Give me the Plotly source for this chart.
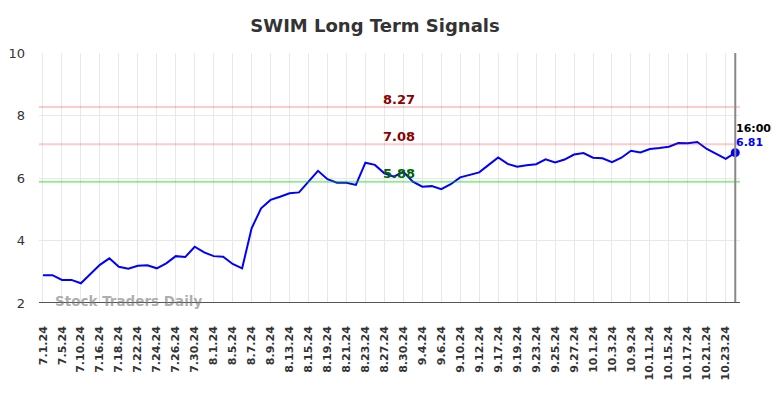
import plotly.graph_objects as go

dates = ["7.1.24","7.3.24","7.5.24","7.9.24","7.10.24","7.12.24","7.16.24","7.17.24","7.18.24","7.19.24",
         "7.22.24","7.23.24","7.24.24","7.25.24","7.26.24","7.29.24","7.30.24","7.31.24","8.1.24","8.2.24",
         "8.5.24","8.6.24","8.7.24","8.8.24","8.9.24","8.12.24","8.13.24","8.14.24","8.15.24","8.16.24",
         "8.19.24","8.20.24","8.21.24","8.22.24","8.23.24","8.26.24","8.27.24","8.28.24","8.30.24","9.3.24",
         "9.4.24","9.5.24","9.6.24","9.9.24","9.10.24","9.11.24","9.12.24","9.16.24","9.17.24","9.18.24",
         "9.19.24","9.20.24","9.23.24","9.24.24","9.25.24","9.26.24","9.27.24","9.30.24","10.1.24","10.2.24",
         "10.3.24","10.8.24","10.9.24","10.10.24","10.11.24","10.14.24","10.15.24","10.16.24","10.17.24","10.18.24",
         "10.21.24","10.22.24","10.23.24","10.24.24"]

values = [2.89, 2.89, 2.74, 2.74, 2.63, 2.93, 3.22, 3.43, 3.16, 3.10,
          3.19, 3.21, 3.11, 3.27, 3.50, 3.47, 3.80, 3.62, 3.50, 3.48,
          3.25, 3.11, 4.39, 5.03, 5.30, 5.40, 5.51, 5.54, 5.88, 6.23,
          5.96, 5.85, 5.85, 5.78, 6.49, 6.42, 6.15, 6.04, 6.20, 5.88,
          5.72, 5.74, 5.64, 5.80, 6.02, 6.10, 6.18, 6.42, 6.66, 6.45,
          6.36, 6.41, 6.44, 6.60, 6.50, 6.59, 6.75, 6.80, 6.65, 6.63,
          6.51, 6.65, 6.87, 6.82, 6.93, 6.96, 7.00, 7.12, 7.11, 7.15,
          6.93, 6.77, 6.61, 6.81]

tick_labels = dates[0:73:2]

upper_high = 8.27
upper_low = 7.08
support = 5.88
last_label_time = "16:00"
title_text = "SWIM Long Term Signals"
watermark = "Stock Traders Daily"

x = list(range(len(dates)))
tickvals = x[0:73:2]
last_i = x[-1]
last_v = values[-1]

W, H = 776, 390

fig = go.Figure()
fig.add_trace(go.Scatter(x=x, y=values, mode="lines",
                         line=dict(color="#0000ff", width=2), hoverinfo="skip"))
fig.add_trace(go.Scatter(x=[last_i], y=[last_v], mode="markers",
                         marker=dict(color="#0000ff", size=9), hoverinfo="skip"))

for lvl, col in [(upper_high, "rgba(255,0,0,0.2)"), (upper_low, "rgba(255,0,0,0.2)"), (support, "rgba(0,200,0,0.4)")]:
    fig.add_shape(type="line", xref="paper", x0=0, x1=1, y0=lvl, y1=lvl,
                  line=dict(color=col, width=2), layer="above")

fig.add_shape(type="line", x0=last_i, x1=last_i, yref="paper", y0=0, y1=1,
              line=dict(color="#888888", width=2))

ann_font = dict(family="DejaVu Sans", size=13)
fig.add_annotation(x=0.513, xref="paper", y=upper_high, yshift=8, text="<b>%.2f</b>" % upper_high,
                   showarrow=False, font=dict(ann_font, color="#8b0000"))
fig.add_annotation(x=0.513, xref="paper", y=upper_low, yshift=8, text="<b>%.2f</b>" % upper_low,
                   showarrow=False, font=dict(ann_font, color="#8b0000"))
fig.add_annotation(x=0.513, xref="paper", y=support, yshift=8, text="<b>%.2f</b>" % support,
                   showarrow=False, font=dict(ann_font, color="#006400"))
fig.add_annotation(x=last_i, y=last_v, xanchor="left", xshift=-1, yshift=24,
                   text="<b>%s</b>" % last_label_time, showarrow=False,
                   font=dict(family="DejaVu Sans", size=11, color="#000000"))
fig.add_annotation(x=last_i, y=last_v, xanchor="left", xshift=-1, yshift=10,
                   text="<b>%.2f</b>" % last_v, showarrow=False,
                   font=dict(family="DejaVu Sans", size=11, color="#0000ff"))
fig.add_annotation(x=0.02, xref="paper", y=2, yanchor="bottom", xanchor="left", yshift=-8,
                   text="<b>%s</b>" % watermark, showarrow=False,
                   font=dict(family="DejaVu Sans", size=13.5, color="rgba(120,120,120,0.6)"))

fig.update_layout(
    width=W, height=H,
    margin=dict(l=31, r=44, t=45, b=95, autoexpand=False),
    paper_bgcolor="white", plot_bgcolor="white",
    showlegend=False,
    title=dict(text="<b>%s</b>" % title_text, x=367/W, xanchor="center", y=1-18/H, yanchor="middle",
               font=dict(family="DejaVu Sans", size=18, color="#333333")),
    font=dict(family="DejaVu Sans"),
)
fig.update_xaxes(range=[-0.42, 73.5], tickmode="array", tickvals=tickvals, ticktext=tick_labels,
                 tickangle=-90, showgrid=True, gridcolor="#e8e8e8", gridwidth=1, automargin=False,
                 zeroline=False, showline=False, ticks="", ticklabelstandoff=20,
                 tickfont=dict(family="DejaVu Sans", size=11, color="#333333", weight="bold"))
fig.update_yaxes(range=[2, 10], tickvals=[2, 4, 6, 8, 10], showgrid=True, gridcolor="#e8e8e8",
                 zeroline=False, showline=False, ticks="", ticklabelstandoff=13, automargin=False,
                 tickfont=dict(family="DejaVu Sans", size=13, color="#333333"))
fig.add_shape(type="line", xref="paper", x0=0, x1=1, y0=2, y1=2,
              line=dict(color="#555555", width=2))

fig.write_html("out.html")
